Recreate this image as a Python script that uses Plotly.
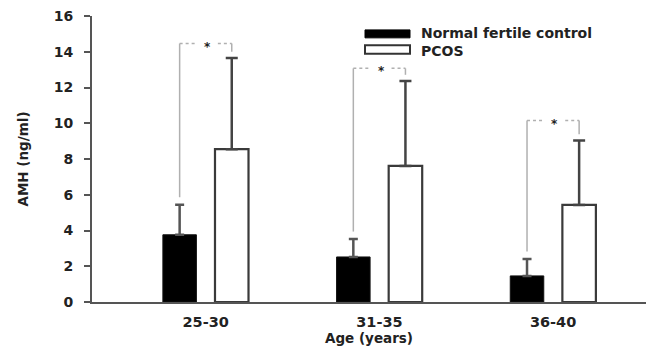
import plotly.graph_objects as go

# ---- data ----
age_groups = ["25-30", "31-35", "36-40"]
control_mean = [3.76, 2.52, 1.46]
control_sd = [1.68, 1.0, 0.95]
pcos_mean = [8.55, 7.61, 5.43]
pcos_sd = [5.1, 4.75, 3.6]
sig_level = [14.46, 13.07, 10.15]
sig_label = ["*", "*", "*"]
y_ticks = [0, 2, 4, 6, 8, 10, 12, 14, 16]

# ---- style constants ----
FONT = "DejaVu Sans"
TXT = "#222222"
BAR_W = 0.193
HALF_GAP = 0.15
AX_COL = "#555555"
FIG_W, FIG_H = 638, 339          # page has an 8px body margin
ML, MT, MB = 84, 6, 45

fig = go.Figure()

fig.add_trace(go.Bar(
    name="Normal fertile control", x=age_groups, y=control_mean,
    width=BAR_W, offset=-HALF_GAP - BAR_W / 2,
    marker=dict(color="#000000", line=dict(color="#111111", width=1)),
    error_y=dict(type="data", array=control_sd, arrayminus=[0] * 3, symmetric=False,
                 color="#555555", thickness=2.5, width=4.5),
    showlegend=False,
))
fig.add_trace(go.Bar(
    name="PCOS", x=age_groups, y=pcos_mean,
    width=BAR_W, offset=HALF_GAP - BAR_W / 2,
    marker=dict(color="#ffffff", line=dict(color="#3a3a3a", width=2.2)),
    error_y=dict(type="data", array=pcos_sd, arrayminus=[0] * 3, symmetric=False,
                 color="#444444", thickness=2.5, width=6),
    showlegend=False,
))

shapes = []
annotations = []
BR_COL = "#b0b0b0"
for i, lvl in enumerate(sig_level):
    left_x = i - HALF_GAP
    right_x = i + HALF_GAP
    c_top = control_mean[i] + control_sd[i]
    p_top = pcos_mean[i] + pcos_sd[i]
    shapes.append(dict(type="line", xref="x", yref="y", x0=left_x, x1=left_x,
                       y0=c_top + 0.42, y1=lvl, line=dict(color=BR_COL, width=1.5)))
    shapes.append(dict(type="line", xref="x", yref="y", x0=left_x, x1=i - 0.05,
                       y0=lvl, y1=lvl, line=dict(color=BR_COL, width=1.5, dash="dot")))
    shapes.append(dict(type="line", xref="x", yref="y", x0=i + 0.07, x1=right_x,
                       y0=lvl, y1=lvl, line=dict(color=BR_COL, width=1.5, dash="dot")))
    shapes.append(dict(type="line", xref="x", yref="y", x0=right_x, x1=right_x,
                       y0=lvl, y1=p_top + 0.35, line=dict(color=BR_COL, width=1.5)))
    annotations.append(dict(x=i + 0.01, y=lvl, xref="x", yref="y",
                            text="<b>" + sig_label[i] + "</b>",
                            showarrow=False, yanchor="middle", yshift=-3,
                            font=dict(family=FONT, size=12, color=TXT)))

# ---- custom legend (wide swatches); positions given in page pixels ----
PL, PR, PT, PB = ML + 8, FIG_W + 8, MT + 8, FIG_H - MB + 8
def px_x(p):
    return (p - PL) / (PR - PL)
def px_y(p):
    return (PB - p) / (PB - PT)

shapes.append(dict(type="rect", xref="paper", yref="paper",
                   x0=px_x(365), x1=px_x(410), y0=px_y(36), y1=px_y(28),
                   fillcolor="#000000", line=dict(color="#000000", width=1)))
shapes.append(dict(type="rect", xref="paper", yref="paper",
                   x0=px_x(365), x1=px_x(410), y0=px_y(52), y1=px_y(43.5),
                   fillcolor="#ffffff", line=dict(color="#333333", width=2)))
annotations.append(dict(x=px_x(419), y=px_y(31.5), xref="paper", yref="paper",
                        text="<b>Normal fertile control</b>", showarrow=False,
                        xanchor="left", yanchor="middle",
                        font=dict(family=FONT, size=14, color=TXT)))
annotations.append(dict(x=px_x(419), y=px_y(49), xref="paper", yref="paper",
                        text="<b>PCOS</b>", showarrow=False,
                        xanchor="left", yanchor="middle",
                        font=dict(family=FONT, size=14, color=TXT)))

fig.update_layout(
    width=FIG_W, height=FIG_H,
    margin=dict(l=ML, r=0, t=MT, b=MB),
    paper_bgcolor="white", plot_bgcolor="white",
    barmode="group",
    shapes=shapes, annotations=annotations,
    font=dict(family=FONT, color=TXT),
    xaxis=dict(
        type="category", range=[-0.6546, 2.535],
        showline=True, linecolor=AX_COL, linewidth=2,
        ticks="", showgrid=False, zeroline=False,
        tickfont=dict(family=FONT, size=14.5, color=TXT, weight="bold"),
        ticklabelstandoff=6,
        title=dict(text="<b>Age (years)</b>", standoff=1,
                   font=dict(family=FONT, size=13.5, color=TXT)),
    ),
    yaxis=dict(
        range=[0, 16], tickvals=y_ticks,
        showline=True, linecolor=AX_COL, linewidth=2,
        ticks="outside", ticklen=6, tickwidth=2, tickcolor=AX_COL,
        showgrid=False, zeroline=False,
        tickfont=dict(family=FONT, size=14, color=TXT, weight="bold"),
        ticklabelstandoff=8, ticklabeloverflow="allow",
        title=dict(text="<b>AMH (ng/ml)</b>", standoff=22,
                   font=dict(family=FONT, size=13.5, color=TXT)),
    ),
)

fig.write_html("out.html")
